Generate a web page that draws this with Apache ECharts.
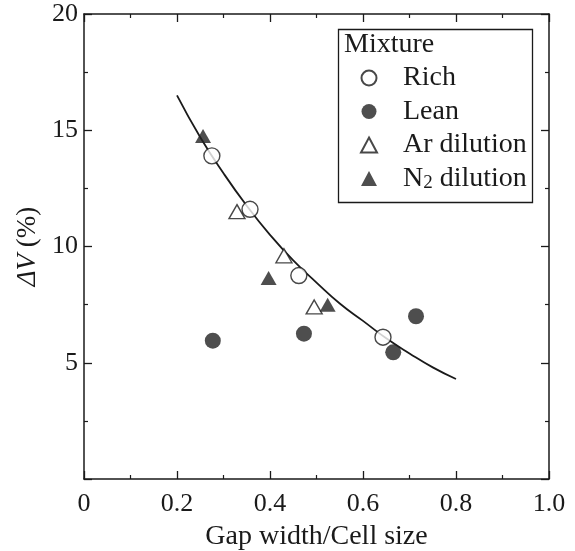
<!DOCTYPE html>
<html>
<head>
<meta charset="utf-8">
<script src="https://cdn.jsdelivr.net/npm/echarts@6/dist/echarts.min.js"></script>
<style>
  html, body { margin: 0; padding: 0; background: #fff; }
  #chart { width: 575px; height: 551px; }
</style>
</head>
<body>
<div id="chart"></div>
<script>
// data: [gap width / cell size, dV %]
const richPts = [[0.275, 13.9], [0.357, 11.6], [0.462, 8.75], [0.643, 6.1]];
const leanPts = [[0.277, 5.95], [0.473, 6.25], [0.665, 5.45], [0.714, 7.0]];
const arPts   = [[0.329, 11.5], [0.430, 9.6], [0.495, 7.4]];
const n2Pts   = [[0.256, 14.75], [0.397, 8.65], [0.524, 7.5]];
// fitted curve, traced by eye
const fitPts  = [[0.2, 16.5], [0.25, 14.7], [0.3, 13.15], [0.35, 11.75], [0.4, 10.5],
                 [0.45, 9.4], [0.5, 8.45], [0.55, 7.55], [0.6, 6.8], [0.65, 6.05],
                 [0.7, 5.4], [0.75, 4.8], [0.8, 4.3]];

const FONT = "Liberation Serif";
const INK = "#1a1a1a";

const chart = echarts.init(document.getElementById("chart"), null, { renderer: "canvas" });

const axisCommon = {
  axisLine: { show: true, onZero: false, lineStyle: { color: INK, width: 1.5 } },
  axisTick: { show: true, inside: true, length: 8, lineStyle: { color: INK, width: 1.3 } },
  minorTick: { show: true, splitNumber: 2, length: 4, lineStyle: { color: INK, width: 1.2 } },
  splitLine: { show: false }
};

function openMark(name, symbol, size, data) {
  return {
    name, type: "scatter", data, symbol, symbolSize: size, z: 5,
    itemStyle: { color: "#fff", borderColor: INK, borderWidth: 1.4 }
  };
}
function fillMark(name, symbol, size, data) {
  return {
    name, type: "scatter", data, symbol, symbolSize: size, z: 5,
    itemStyle: { color: "#222" }
  };
}

chart.setOption({
  animation: false,
  backgroundColor: "#fff",
  grid: { left: 84, right: 26, top: 14, bottom: 72, outerBoundsMode: "none", containLabel: false },
  xAxis: [
    Object.assign({
      type: "value", min: 0, max: 1, interval: 0.2, position: "bottom",
      name: "Gap width/Cell size", nameLocation: "middle", nameGap: 44,
      nameTextStyle: { fontFamily: FONT, fontSize: 28, color: INK },
      axisLabel: {
        margin: 12, fontFamily: FONT, fontSize: 26, color: INK,
        formatter: v => (v === 0 ? "0" : v.toFixed(1))
      }
    }, axisCommon),
    Object.assign({
      type: "value", min: 0, max: 1, interval: 0.2, position: "top",
      axisLabel: { show: false }
    }, axisCommon)
  ],
  yAxis: [
    Object.assign({
      type: "value", min: 0, max: 20, interval: 5, position: "left",
      name: "{i|ΔV} (%)", nameLocation: "middle", nameGap: 40,
      nameTextStyle: {
        fontFamily: FONT, fontSize: 27, color: INK,
        rich: { i: { fontFamily: FONT, fontSize: 27, fontStyle: "italic", color: INK } }
      },
      axisLabel: {
        margin: 6, fontFamily: FONT, fontSize: 26, color: INK,
        formatter: v => (v === 0 ? "" : String(v))
      }
    }, axisCommon),
    Object.assign({
      type: "value", min: 0, max: 20, interval: 5, position: "right",
      axisLabel: { show: false }
    }, axisCommon)
  ],
  legend: {
    orient: "vertical",
    left: 355, top: 59,
    itemWidth: 16, itemHeight: 15, itemGap: 5.5,
    textStyle: {
      fontFamily: FONT, fontSize: 28, color: INK, lineHeight: 28, padding: [0, 0, 0, 21],
      rich: {
        sub: { fontFamily: FONT, fontSize: 19, color: INK, verticalAlign: "bottom", padding: [14, 0, 0, 0] }
      }
    },
    formatter: n => (n === "N2 dilution" ? "N{sub|2} dilution" : n),
    data: ["Rich", "Lean", "Ar dilution", "N2 dilution"]
  },
  graphic: [
    {
      type: "rect", left: 336, top: 27, z: 10,
      shape: { width: 194, height: 173 },
      style: { fill: null, stroke: INK, lineWidth: 1.3 }
    },
    {
      type: "text", left: 344, top: 31, z: 10,
      style: { text: "Mixture", font: "28px 'Liberation Serif'", fill: INK }
    }
  ],
  series: [
    {
      name: "fit", type: "line", data: fitPts, smooth: 0.5, symbol: "none", z: 3,
      lineStyle: { color: INK, width: 1.8 }
    },
    openMark("Rich", "circle", 16, richPts),
    fillMark("Lean", "circle", 16, leanPts),
    openMark("Ar dilution", "triangle", [16, 14], arPts),
    fillMark("N2 dilution", "triangle", [16, 14], n2Pts)
  ]
});
</script>
</body>
</html>
